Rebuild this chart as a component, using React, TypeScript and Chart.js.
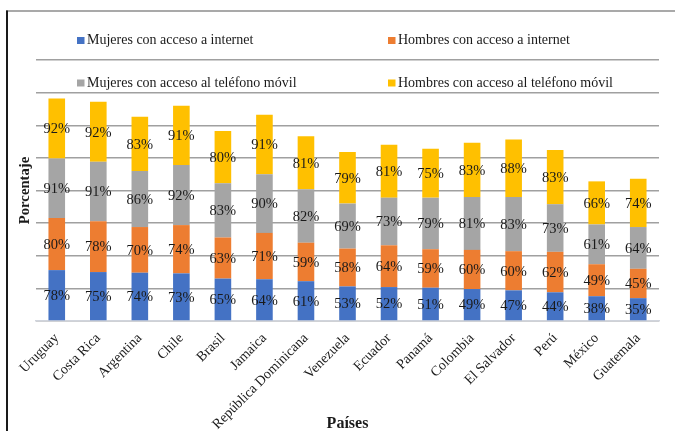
import React, { useEffect, useRef } from "react";
import { Chart, registerables } from "chart.js";

Chart.register(...registerables);

const paises = [
  "Uruguay",
  "Costa Rica",
  "Argentina",
  "Chile",
  "Brasil",
  "Jamaica",
  "República Dominicana",
  "Venezuela",
  "Ecuador",
  "Panamá",
  "Colombia",
  "El Salvador",
  "Perú",
  "México",
  "Guatemala",
];

const mujeresInternet = [78, 75, 74, 73, 65, 64, 61, 53, 52, 51, 49, 47, 44, 38, 35];
const hombresInternet = [80, 78, 70, 74, 63, 71, 59, 58, 64, 59, 60, 60, 62, 49, 45];
const mujeresMovil = [91, 91, 86, 92, 83, 90, 82, 69, 73, 79, 81, 83, 73, 61, 64];
const hombresMovil = [92, 92, 83, 91, 80, 91, 81, 79, 81, 75, 83, 88, 83, 66, 74];

const series = [
  { label: "Mujeres con acceso a internet", data: mujeresInternet, color: "#4472C4" },
  { label: "Hombres con acceso a internet", data: hombresInternet, color: "#ED7D31" },
  { label: "Mujeres con acceso al teléfono móvil", data: mujeresMovil, color: "#A5A5A5" },
  { label: "Hombres con acceso al teléfono móvil", data: hombresMovil, color: "#FFC000" },
];

const SERIF = "'Liberation Serif', 'Times New Roman', serif";
const TEXT = "#1a1a1a";

// Outer frame: dark left rule and grey top rule
const framePlugin = {
  id: "frame",
  beforeDraw(chart: any) {
    const { ctx } = chart;
    ctx.save();
    ctx.fillStyle = "#ffffff";
    ctx.fillRect(0, 0, chart.width, chart.height);
    ctx.strokeStyle = "#8c8c8c";
    ctx.lineWidth = 1.3;
    ctx.beginPath();
    ctx.moveTo(6, 11);
    ctx.lineTo(chart.width, 11);
    ctx.stroke();
    ctx.strokeStyle = "#1a1a1a";
    ctx.lineWidth = 2;
    ctx.beginPath();
    ctx.moveTo(7, 10.5);
    ctx.lineTo(7, chart.height);
    ctx.stroke();
    ctx.restore();
  },
};

// Percent labels centred in each stacked segment
const segmentLabels = {
  id: "segmentLabels",
  afterDatasetsDraw(chart: any) {
    const { ctx } = chart;
    ctx.save();
    ctx.font = `14.5px ${SERIF}`;
    ctx.fillStyle = TEXT;
    ctx.textAlign = "center";
    ctx.textBaseline = "middle";
    chart.data.datasets.forEach((ds: any, i: number) => {
      const meta = chart.getDatasetMeta(i);
      meta.data.forEach((bar: any, j: number) => {
        const cy = (bar.y + bar.base) / 2;
        ctx.fillText(`${ds.data[j]}%`, bar.x, cy + 1);
      });
    });
    ctx.restore();
  },
};

// Two-row legend laid over the top of the plot
const legendPlugin = {
  id: "topLegend",
  afterDraw(chart: any) {
    const { ctx } = chart;
    const cols = [77, 388];
    const rows = [40.5, 83];
    ctx.save();
    ctx.font = `14px ${SERIF}`;
    ctx.textAlign = "left";
    ctx.textBaseline = "middle";
    series.forEach((s, i) => {
      const x = cols[i % 2];
      const y = rows[Math.floor(i / 2)];
      ctx.fillStyle = s.color;
      ctx.fillRect(x, y - 3.5, 7.5, 7);
      ctx.fillStyle = TEXT;
      ctx.fillText(s.label, x + 10, y);
    });
    ctx.restore();
  },
};

export default function App() {
  const canvasRef = useRef<HTMLCanvasElement | null>(null);

  useEffect(() => {
    const canvas = canvasRef.current;
    if (!canvas) return;
    const chart = new Chart(canvas, {
      type: "bar",
      data: {
        labels: paises,
        datasets: series.map((s) => ({
          label: s.label,
          data: s.data,
          backgroundColor: s.color,
          borderWidth: 0,
          barPercentage: 0.4,
          categoryPercentage: 1,
        })),
      },
      options: {
        responsive: false,
        animation: false,
        devicePixelRatio: 1,
        layout: { padding: { left: 36, right: 16, top: 60, bottom: 0 } },
        plugins: {
          legend: { display: false },
          tooltip: { enabled: false },
          title: { display: false },
        },
        scales: {
          x: {
            stacked: true,
            grid: { display: false, drawTicks: false },
            border: { display: true, color: "#d0d4dc", width: 1.5 },
            ticks: {
              color: TEXT,
              font: { family: SERIF, size: 14 },
              minRotation: 45,
              maxRotation: 45,
              padding: 9,
              autoSkip: false,
            },
            title: { display: false },
            afterFit: (scale: any) => {
              scale.height = 110;
            },
          },
          y: {
            stacked: true,
            min: 0,
            max: 400,
            ticks: { display: false, stepSize: 50 },
            grid: { color: "#a0a0a0", lineWidth: 1.5, drawTicks: false },
            border: { display: false },
            title: { display: false },
          },
        },
      },
      plugins: [
        framePlugin,
        segmentLabels,
        legendPlugin,
        {
          id: "axisTitles",
          afterDraw(c: any) {
            const { ctx, chartArea } = c;
            ctx.save();
            ctx.fillStyle = TEXT;
            ctx.textAlign = "center";
            ctx.textBaseline = "middle";
            ctx.font = `bold 16px ${SERIF}`;
            ctx.fillText("Países", (chartArea.left + chartArea.right) / 2, 424);
            ctx.translate(25, (chartArea.top + chartArea.bottom) / 2);
            ctx.rotate(-Math.PI / 2);
            ctx.font = `bold 14.7px ${SERIF}`;
            ctx.fillText("Porcentaje", 0, 0);
            ctx.restore();
          },
        },
      ],
    });
    return () => chart.destroy();
  }, []);

  return (
    <div style={{ position: "absolute", left: 0, top: 0, width: 675, height: 431, background: "#fff" }}>
      <canvas ref={canvasRef} width={675} height={431} style={{ display: "block" }} />
    </div>
  );
}
